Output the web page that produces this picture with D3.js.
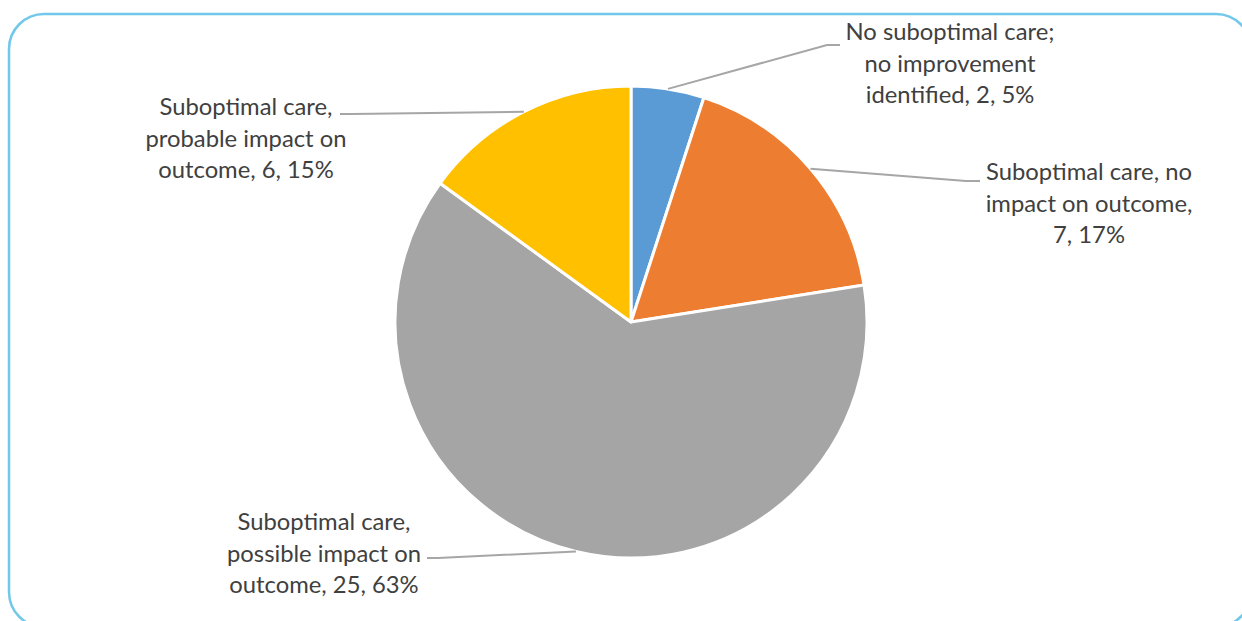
<!DOCTYPE html>
<meta charset="utf-8">

<!-- Load d3.js -->
<script src="https://cdnjs.cloudflare.com/ajax/libs/d3/7.3.0/d3.min.js"></script>

<style>
    body { margin: 0; background: #fff; }
</style>

<!-- Create a div where the graph will take place -->
<div id="my_dataviz"></div>

<script>

    // data
    const categories = [
        "No suboptimal care; no improvement identified",
        "Suboptimal care, no impact on outcome",
        "Suboptimal care, possible impact on outcome",
        "Suboptimal care, probable impact on outcome"
    ]
    const counts = [2, 7, 25, 6]
    const percents = ["5%", "17%", "63%", "15%"]
    const labelLines = [
        ["No suboptimal care;", "no improvement", "identified, 2, 5%"],
        ["Suboptimal care, no", "impact on outcome,", "7, 17%"],
        ["Suboptimal care,", "possible impact on", "outcome, 25, 63%"],
        ["Suboptimal care,", "probable impact on", "outcome, 6, 15%"]
    ]
    const colors = ["#5B9BD5", "#ED7D31", "#A5A5A5", "#FFC000"]

    // label layout: text center x, first line middle y, leader end point
    const labelPos = [
        { x: 950, y: 32, lx: 840, ly: 45, kx: 827 },
        { x: 1089, y: 172, lx: 980, ly: 181, kx: 966 },
        { x: 324, y: 522, lx: 427, ly: 558, kx: 438 },
        { x: 246, y: 107, lx: 340, ly: 114, kx: 352 }
    ]

    var width = 1242, height = 621
    var cx = 631, cy = 322, radius = 236

    var svg = d3.select("#my_dataviz")
        .append("svg")
        .attr("width", width)
        .attr("height", height)

    // rounded frame
    svg.append("rect")
        .attr("x", 9).attr("y", 14)
        .attr("width", 1242).attr("height", 613)
        .attr("rx", 35).attr("ry", 35)
        .attr("fill", "none")
        .attr("stroke", "#72C8EA")
        .attr("stroke-width", 2.5)

    var g = svg.append("g")
        .attr("transform", "translate(" + cx + "," + cy + ")")

    var pie = d3.pie().sort(null).value(function (d) { return d; })
    var arcs = pie(counts)

    var arc = d3.arc().innerRadius(0).outerRadius(radius)

    g.selectAll("path.slice")
        .data(arcs)
        .enter()
        .append("path")
        .attr("class", "slice")
        .attr("d", arc)
        .attr("fill", function (d, i) { return colors[i]; })
        .attr("stroke", "#fff")
        .attr("stroke-width", 3)
        .attr("stroke-linejoin", "round")

    // leader lines from slice edge to label
    arcs.forEach(function (d, i) {
        var a = (d.startAngle + d.endAngle) / 2
        var sx = cx + radius * Math.sin(a), sy = cy - radius * Math.cos(a)
        var p = labelPos[i]
        svg.append("polyline")
            .attr("points", [[sx, sy], [p.kx, p.ly], [p.lx, p.ly]].map(function (q) { return q.join(","); }).join(" "))
            .attr("fill", "none")
            .attr("stroke", "#A6A6A6")
            .attr("stroke-width", 2)
    })

    // labels
    labelLines.forEach(function (lines, i) {
        var p = labelPos[i]
        var t = svg.append("text")
            .attr("text-anchor", "middle")
            .attr("font-family", "Lato, 'Open Sans', sans-serif")
            .attr("font-size", 23.8)
            .attr("fill", "#404040")
        lines.forEach(function (s, j) {
            t.append("tspan")
                .attr("x", p.x)
                .attr("y", p.y + j * 31.5)
                .attr("dy", "0.35em")
                .text(s)
        })
    })

</script>
